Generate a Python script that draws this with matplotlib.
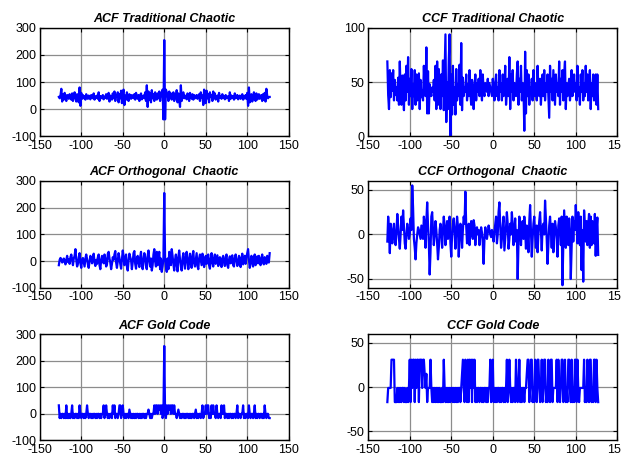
import numpy as np
import matplotlib
matplotlib.use("Agg")
import matplotlib.pyplot as plt

plt.rcParams['font.family'] = ['Liberation Sans', 'DejaVu Sans']
plt.rcParams['axes.unicode_minus'] = False

# retardos -127 .. 127
lags = list(range(-127, 128))

acf_trad = [
    45, 40, 50, 75, 28, 55, 35, 60, 42, 30, 52, 48, 38, 55, 42,
    35, 58, 30, 50, 62, 40, 28, 55, 45, 25, 80, 12, 60, 38, 52,
    40, 48, 35, 55, 42, 38, 50, 45, 36, 52, 44, 40, 58, 35, 47,
    42, 50, 38, 62, 30, 48, 45, 40, 52, 36, 46, 42, 55, 38, 48,
    60, 28, 50, 44, 35, 58, 40, 65, 30, 52, 46, 62, 25, 55, 40,
    68, 22, 58, 72, 15, 50, 35, 62, 42, 30, 55, 48, 38, 52, 44,
    40, 55, 35, 60, 45, 38, 52, 30, 48, 58, 36, 44, 50, 40, 62,
    30, 88, 8, 65, 35, 58, 25, 70, 40, 55, 30, 62, 45, 35, 58,
    40, 65, 30, 55, 62, 72, -38, 255, -38, 72, 62, 55, 30, 65, 40,
    58, 35, 45, 62, 30, 55, 40, 70, 25, 58, 35, 8, 88, 30, 52,
    62, 40, 50, 44, 36, 58, 48, 30, 60, 45, 38, 55, 35, 52, 40,
    44, 52, 38, 48, 55, 30, 62, 42, 50, 15, 72, 58, 22, 68, 40,
    55, 25, 62, 46, 52, 30, 65, 40, 58, 35, 44, 50, 28, 60, 42,
    48, 38, 55, 42, 46, 36, 52, 40, 45, 48, 30, 62, 38, 50, 42,
    47, 35, 58, 40, 44, 52, 36, 45, 50, 38, 42, 55, 35, 48, 40,
    52, 38, 60, 12, 80, 25, 45, 55, 28, 40, 62, 50, 30, 58, 35,
    42, 55, 38, 48, 52, 30, 55, 35, 60, 28, 75, 50, 40, 45, 45,
]

ccf_trad = [
    69, 38, 25, 61, 36, 58, 42, 61, 33, 52, 38, 45, 33, 54, 29,
    69, 40, 29, 56, 45, 24, 57, 33, 65, 41, 73, 29, 53, 37, 62,
    25, 48, 37, 61, 29, 57, 33, 45, 58, 25, 52, 36, 42, 33, 65,
    41, 37, 82, 21, 60, 21, 48, 41, 37, 45, 41, 52, 33, 65, 25,
    69, 29, 62, 45, 25, 57, 37, 70, 24, 60, 94, 13, 50, 25, 70,
    94, 0, 57, 20, 65, 29, 45, 20, 62, 33, 48, 37, 66, 29, 86,
    24, 54, 37, 45, 41, 57, 33, 48, 37, 61, 41, 29, 52, 45, 25,
    45, 57, 33, 49, 41, 53, 37, 61, 45, 33, 57, 41, 37, 49, 45,
    41, 53, 37, 49, 45, 41, 37, 53, 45, 33, 49, 57, 37, 45, 33,
    61, 41, 49, 33, 57, 37, 45, 65, 29, 41, 53, 37, 73, 25, 57,
    41, 61, 33, 49, 45, 37, 57, 69, 29, 53, 41, 65, 33, 49, 45,
    5, 78, 21, 61, 37, 57, 29, 45, 41, 53, 33, 61, 37, 49, 45,
    33, 65, 41, 37, 53, 29, 45, 57, 37, 61, 33, 49, 41, 57, 37,
    17, 65, 41, 53, 33, 61, 45, 29, 57, 41, 49, 37, 69, 29, 53,
    41, 61, 33, 57, 69, 25, 49, 37, 45, 53, 33, 41, 61, 37, 45,
    57, 41, 49, 33, 65, 37, 45, 29, 57, 41, 61, 33, 49, 37, 65,
    41, 57, 33, 45, 61, 25, 49, 37, 57, 33, 45, 57, 29, 57, 25,
]

acf_orto = [
    -15, 5, 12, 8, -5, -2, 10, 2, -12, 5, 20, -3, 8, -10, 15,
    25, 5, -15, 10, 20, 45, 5, -20, -10, 15, 30, -8, -25, 5, 12,
    -5, -20, 10, 25, 8, -12, -25, 0, 20, 10, -8, 12, 28, -5, -18,
    5, -10, 15, 25, -15, -30, 5, 20, 10, -8, 25, 10, -20, -12, 28,
    35, 10, -5, -30, -10, 15, 5, 25, 38, -5, -25, 0, 30, 12, -10,
    -28, 5, 40, 18, -15, 10, 25, -20, -35, 0, 28, 15, 5, -30, -5,
    30, 38, -10, -28, 10, 20, -5, -22, 15, 35, -10, -30, 5, 30, 15,
    -18, -30, 20, 40, 5, -20, 10, -35, -15, 25, 45, 0, -20, 35, -15,
    15, 35, -30, 10, -40, -20, 10, 255, 10, -20, -40, 10, -30, 35, 15,
    -15, 45, 20, -10, -35, 5, 25, -15, -38, 15, 40, 5, -20, -35, 10,
    30, -5, -28, 15, 35, 0, -30, 5, 28, -12, -25, 20, 38, -8, -20,
    5, 30, -18, -30, 10, 25, 5, -15, 28, 12, -22, -5, 20, -10, 15,
    25, -15, -28, 8, 30, -5, -20, 12, 25, -10, 5, 22, -18, -8, 15,
    5, -22, 10, 20, -5, -18, 12, 25, -15, -25, 5, 18, -8, 15, 22,
    -15, -20, 12, 25, 5, -18, -5, 20, 8, -22, 10, 28, -12, 5, 20,
    -10, 15, 30, 45, 5, -25, -10, 20, 8, -20, 12, 25, -15, 5, 18,
    -8, 20, 5, -15, 10, 25, -5, -12, 15, 5, -10, 20, 8, -5, 30,
]

ccf_orto = [
    -8, 20, 5, -21, 12, 0, -10, 5, 12, -5, -12, 3, 23, 10, -5,
    -16, 0, 20, 5, 27, 8, -10, -16, 0, 12, 5, -5, 0, 18, 5,
    55, 30, -5, -15, -28, -10, 0, 8, 5, 0, -5, 10, 2, -5, 20,
    10, -15, 15, 36, 10, -10, -45, -20, 20, 25, 5, -12, 0, 15, 5,
    -10, -28, -15, 5, 12, 0, -15, 5, 20, 10, -12, 0, 15, -5, 5,
    20, -10, -25, 0, 12, 18, 0, -16, 5, 20, 10, -25, -5, 12, 8,
    -15, 5, 20, 12, 48, 10, -10, 5, 12, -12, 5, 15, 0, -5, 16,
    10, -12, 5, 8, 0, 5, -12, 0, 8, 2, -10, -33, -5, 8, 0,
    -5, 2, 10, 5, 0, -3, 5, 0, -8, 3, 12, 20, -10, 0, 25,
    36, 10, -15, -5, 10, 20, -18, -5, 8, 25, 12, -16, -5, 12, 0,
    25, 10, -12, 5, 18, -8, 5, -50, -10, 20, 10, -12, 8, 15, -5,
    20, 5, -16, 10, 0, -20, 15, 33, 5, -25, -5, 12, 20, 0, -15,
    10, -20, 0, 15, 25, 5, -18, 8, 12, 0, 38, 18, -5, -33, -10,
    10, 20, 5, -15, 12, -20, 0, 15, 8, -5, -25, 10, 18, 5, -12,
    20, -57, -10, 27, 5, -15, 20, 10, -12, 18, 5, -50, -15, 20, -8,
    15, 5, 33, 10, -10, 25, 8, -12, 20, -40, 5, -53, 27, 10, -8,
    15, -12, 10, 23, -15, 20, -12, 15, 5, -10, 23, -24, 5, 19, -23,
]

acf_gold = [
    31, -17, -1, -17, -1, -1, -17, -1, -17, 31, -17, -1, -17, -1, -17,
    -1, 31, -17, -1, -17, -1, -1, -17, -1, -17, 31, -1, -17, -1, -1,
    -17, -1, -17, -1, 31, -1, -17, -1, -1, -17, -1, -17, -1, -1, -17,
    -1, -17, -1, -1, -17, -1, -17, -1, -1, 31, -17, -1, 31, -1, -17,
    -1, -17, -1, -1, -17, 31, -1, 31, -17, -1, -1, -17, -1, 31, 31,
    -17, -1, 31, -1, -17, -1, -17, -1, -1, -17, 15, -1, -17, -1, -17,
    -1, -17, -1, -17, -1, -1, -17, -1, -17, -1, -17, -1, -1, -17, -1,
    -17, -1, -1, 15, -1, -17, -1, -17, -1, -1, 31, -1, 31, 31, -1,
    31, 15, 31, -1, 31, -17, -1, 255, -1, -17, 31, -1, 31, 15, 31,
    -1, 31, 31, -1, 31, -1, -1, -17, -1, 15, -1, -17, -1, -17, -1,
    -1, -17, -1, -17, -1, -1, -17, -1, -17, -1, -17, -1, -1, -17, -1,
    15, -17, -1, -17, -1, -1, -17, -1, 31, -17, -1, -1, 31, -1, 31,
    31, -17, -1, -17, 31, -1, 31, -1, -1, -17, 31, -1, -17, -1, -1,
    -17, 31, -1, -1, 31, -17, -1, -1, -17, -1, -17, -1, -1, -17, -1,
    -17, -1, -1, -17, -1, 31, -17, -1, -1, -17, -1, -1, 31, -17, -1,
    -17, -1, -1, -17, 31, -1, -17, -1, -1, -17, -1, 31, -17, -1, -17,
    -1, -1, -17, -1, -1, -17, -1, -17, 31, -1, -17, -1, -1, -17, -17,
]

ccf_gold = [
    -17, -1, -1, -1, -1, 31, 31, 31, 31, -17, -17, -17, -1, -17, -1,
    -17, -1, -17, -1, -1, -17, -1, -17, -17, -1, -17, -1, 31, -17, 31,
    -1, 31, 31, -17, 31, -1, 31, 31, -17, 31, 31, 31, -1, 31, 31,
    15, -1, 15, -17, -1, -1, -1, 31, -1, -17, -1, -17, -1, -17, -1,
    -17, -1, -17, -1, -17, -17, -1, -17, 31, -1, -17, -1, -17, -1, -17,
    -1, -17, -1, -1, -17, -1, -17, -1, -17, -1, -17, -1, -1, -17, -1,
    15, 31, -1, -17, 31, -1, -17, 31, -17, 31, -1, 31, -17, 31, -1,
    31, -17, -1, -17, -1, -1, -17, -1, -1, -17, -1, -17, -1, -1, -17,
    -1, -17, -1, -1, 31, -17, -1, 31, -17, -1, -17, -1, -17, -1, -1,
    -17, -1, -17, -1, -1, -17, -1, -17, -1, 31, -17, -1, 31, -1, -17,
    -1, -17, -1, -1, -17, 31, -1, -17, -1, 31, -17, -1, -17, -1, -1,
    -17, -1, -1, 15, 31, 31, -17, -1, 31, 31, -17, -1, -17, 31, -1,
    -17, 31, 31, -1, -17, -1, 31, -17, -1, 31, 31, -17, -1, -17, 31,
    -1, -17, 31, 31, -17, -1, -1, -1, -1, 31, -17, 31, -1, -17, -1,
    31, 31, -17, -1, 31, -17, -1, -17, 31, 31, -1, -17, 31, -17, -1,
    -17, 31, 31, -17, 31, -1, -17, -1, -1, -1, -1, -1, 31, -17, -1,
    -17, 31, -1, -17, 31, 31, -17, -1, -17, 31, 31, -17, 31, -1, -17,
]

titulos = ["ACF Traditional Chaotic", "CCF Traditional Chaotic",
           "ACF Orthogonal  Chaotic", "CCF Orthogonal  Chaotic",
           "ACF Gold Code", "CCF Gold Code"]
series = [acf_trad, ccf_trad, acf_orto, ccf_orto, acf_gold, ccf_gold]
ylims = [(-100, 300), (0, 100), (-100, 300), (-60, 60), (-100, 300), (-60, 60)]
yticks = [[-100, 0, 100, 200, 300], [0, 50, 100], [-100, 0, 100, 200, 300],
          [-50, 0, 50], [-100, 0, 100, 200, 300], [-50, 0, 50]]

fig = plt.figure(figsize=(6.21, 4.57), dpi=100)

# posiciones de los ejes en fracciones de la figura
cols = [(0.064, 0.401), (0.593, 0.401)]
filas = [(0.702, 0.237), (0.370, 0.234), (0.037, 0.232)]

for i in range(6):
    fila, col = divmod(i, 2)
    x0, w = cols[col]
    y0, h = filas[fila]
    ax = fig.add_axes([x0, y0, w, h])
    ax.plot(lags, series[i], color=(0, 0, 1), lw=1.6)
    ax.set_xlim(-150, 150)
    ax.set_ylim(*ylims[i])
    ax.set_xticks([-150, -100, -50, 0, 50, 100, 150])
    ax.set_yticks(yticks[i])
    ax.grid(True, color='#8c8c8c', lw=0.9)
    ax.tick_params(direction='in', top=True, right=True, length=3,
                   labelsize=9, pad=2.5)
    for s in ax.spines.values():
        s.set_linewidth(1.0)
    ax.set_title(titulos[i], fontsize=9, fontweight='bold', style='italic', pad=4)

fig.savefig("out.png", dpi=100)
